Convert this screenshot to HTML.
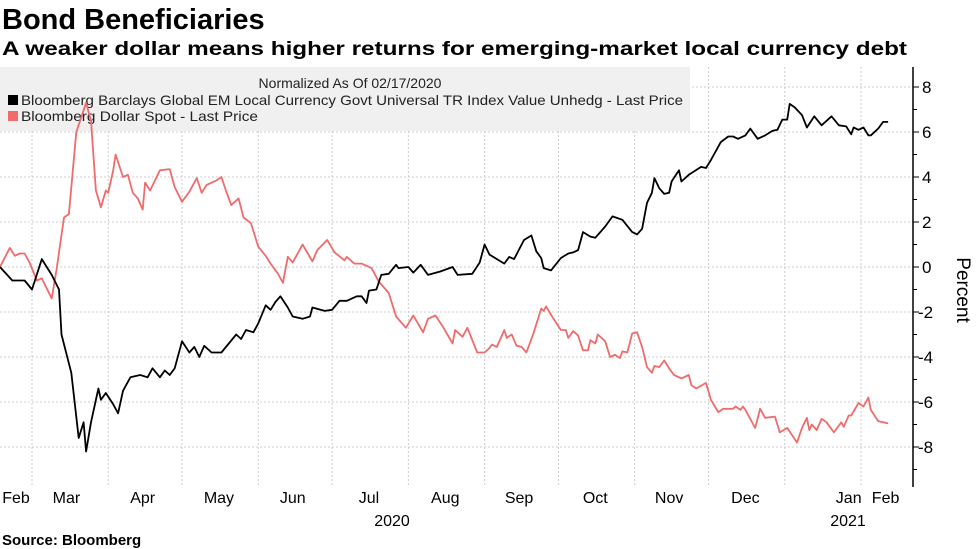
<!DOCTYPE html>
<html><head><meta charset="utf-8"><style>
body{margin:0;background:#fff;font-family:"Liberation Sans",sans-serif}
svg{display:block}
</style></head><body>
<svg id="chart" width="977" height="549">
<text x="2" y="29" font-size="29" font-weight="bold">Bond Beneficiaries</text>
<text x="2" y="55" font-size="19" font-weight="bold" textLength="905" lengthAdjust="spacingAndGlyphs">A weaker dollar means higher returns for emerging-market local currency debt</text>
<g id="grid"></g>
<rect x="0" y="67" width="690" height="64" fill="#f0f0f0"/>
<text x="350" y="88" font-size="14" text-anchor="middle" fill="#222">Normalized As Of 02/17/2020</text>
<g><rect x="8" y="95" width="10" height="10" fill="#000"/><text x="21" y="105" font-size="14" textLength="662" lengthAdjust="spacingAndGlyphs" fill="#222">Bloomberg Barclays Global EM Local Currency Govt Universal TR Index Value Unhedg - Last Price</text></g>
<g><rect x="8" y="111" width="10" height="10" fill="#f06b6b"/><text x="21" y="121" font-size="14" textLength="237" lengthAdjust="spacingAndGlyphs" fill="#222">Bloomberg Dollar Spot - Last Price</text></g>
<g id="series"></g>
<g id="yaxis"></g>
<g id="xaxis"></g>
<text x="392" y="526" font-size="16" text-anchor="middle">2020</text>
<text x="848" y="526" font-size="16" text-anchor="middle">2021</text>
<text transform="translate(957,290) rotate(90)" font-size="19" text-anchor="middle">Percent</text>
<text x="2" y="545" font-size="15" font-weight="bold">Source: Bloomberg</text>
</svg>
<script>
const emDays=[0,5,10,13,17,21,24,25,29,32,34,35,37,40,41,43,46,48,50,53,57,60,62,65,67,69,71,74,77,79,81,83,86,90,93,96,98,100,103,105,108,110,112,114,117,119,123,126,127,132,135,138,141,145,147,149,150,153,155,158,161,162,166,168,171,174,179,184,186,192,195,197,199,202,205,207,209,213,216,218,220,221,224,228,231,233,235,237,240,242,246,249,253,257,259,261,263,265,266,268,270,272,273,276,277,280,285,287,289,293,296,298,300,303,305,308,311,314,316,318,320,321,323,326,328,331,334,338,341,344,346,347,349,351,353,354,357,359,361];
const emValues=[0,-0.6,-0.6,-1.0,0.35,-0.35,-1.0,-3.0,-4.7,-7.6,-6.9,-8.2,-6.9,-5.4,-5.9,-5.6,-6.1,-6.5,-5.5,-4.9,-4.8,-4.9,-4.5,-4.9,-4.6,-4.8,-4.5,-3.3,-3.8,-3.55,-4.0,-3.5,-3.8,-3.8,-3.4,-3.0,-3.2,-2.8,-2.9,-2.5,-1.7,-1.9,-1.55,-1.3,-1.8,-2.2,-2.3,-2.2,-1.8,-1.95,-1.9,-1.5,-1.5,-1.3,-1.3,-1.6,-1.05,-1.0,-0.35,-0.3,0.1,-0.05,0,-0.25,0.1,-0.35,-0.2,0,-0.35,-0.3,0.2,1.0,0.55,0.35,0.15,0.45,0.35,1.2,1.4,0.7,0.4,-0.05,-0.15,0.4,0.6,0.65,0.75,1.55,1.35,1.3,1.8,2.25,2.1,1.55,1.45,1.7,2.85,3.3,3.95,3.5,3.25,3.3,3.8,4.3,3.8,4.1,4.45,4.4,4.75,5.55,5.8,5.8,5.7,5.85,6.15,5.7,5.85,6.05,6.1,6.55,6.55,7.25,7.1,6.75,6.2,6.7,6.3,6.7,6.3,6.25,5.9,6.2,6.1,6.2,5.85,5.85,6.15,6.45,6.45];
const usdDays=[0,4,6,8,10,12,15,17,21,23,26,28,31,35,37,39,41,43,44,46,47,50,52,54,56,58,59,61,63,65,69,71,74,77,80,82,84,88,90,92,94,97,99,102,105,108,110,113,115,117,119,123,127,129,133,136,140,141,144,147,151,154,158,161,165,168,172,174,177,180,184,185,188,190,194,197,199,200,202,205,206,208,210,212,214,217,220,221,222,225,228,230,231,233,235,237,239,240,242,243,246,248,250,252,253,255,257,259,261,263,265,266,268,270,272,274,277,280,281,283,287,289,292,294,298,299,301,302,303,305,307,309,311,315,317,320,324,326,328,329,330,332,334,336,339,342,343,345,346,349,351,353,354,357,361];
const usdValues=[0,0.85,0.5,0.6,0.6,0.2,-0.6,-0.5,-1.4,-0.1,2.2,2.35,6.0,7.3,6.5,3.4,2.65,3.4,3.3,4.3,5.0,4.0,4.1,3.3,3.05,2.55,3.75,3.4,3.85,4.3,4.35,3.55,2.9,3.35,3.95,3.3,3.65,3.85,4.0,3.35,2.75,3.05,2.2,1.95,0.9,0.5,0.15,-0.3,-0.7,0.45,0.2,1.0,0.25,0.75,1.2,0.65,0.3,0.45,0.15,0.15,-0.05,-0.65,-1.15,-2.2,-2.7,-2.15,-2.9,-2.3,-2.15,-2.65,-3.4,-2.8,-3.1,-2.7,-3.8,-3.8,-3.6,-3.45,-3.55,-2.8,-3.15,-3.0,-3.5,-3.55,-3.8,-2.9,-1.85,-1.95,-1.75,-2.3,-2.8,-2.8,-3.15,-2.85,-3.05,-3.7,-3.7,-3.25,-3.4,-3.0,-3.3,-4.0,-3.9,-4.05,-3.75,-3.8,-2.95,-2.9,-3.55,-4.45,-4.7,-4.4,-4.45,-4.15,-4.5,-4.8,-4.95,-4.8,-5.25,-5.4,-5.15,-5.9,-6.45,-6.3,-6.3,-6.2,-6.35,-6.2,-6.35,-6.75,-7.15,-6.3,-6.7,-6.65,-7.35,-7.15,-7.8,-7.15,-6.7,-7.25,-7.0,-7.25,-6.75,-6.9,-7.35,-6.9,-7.1,-6.6,-6.6,-6.05,-6.2,-5.8,-6.35,-6.85,-6.95];
const yTicks=[8,6,4,2,0,-2,-4,-6,-8];
const monthBoundaries=[13,44,74,105,135,166,197,227,258,288,319,350];
const monthLabels=["Feb","Mar","Apr","May","Jun","Jul","Aug","Sep","Oct","Nov","Dec","Jan","Feb"];
const monthLabelDays=[6.5,27,58,89,119,150,181,211,242,272,303,345,360];

const NS="http://www.w3.org/2000/svg";
const X0=0,PXD=2.46,Y0=267,PXU=22.5,AX=913,TOP=67,BOT=487;
const xs=d=>X0+d*PXD, ys=v=>Y0-v*PXU;
function mk(tag,attrs,parent){const e=document.createElementNS(NS,tag);for(const k in attrs)e.setAttribute(k,attrs[k]);parent.appendChild(e);return e;}
const grid=document.getElementById('grid'),series=document.getElementById('series'),yaxis=document.getElementById('yaxis'),xaxis=document.getElementById('xaxis');
yTicks.forEach(v=>{
  const l=mk('line',{x1:0,x2:AX,y1:ys(v),y2:ys(v),stroke:'#ccc','stroke-dasharray':'2,2','stroke-width':1},grid);
  
  
  const t=mk('line',{x1:AX,x2:AX+6,y1:ys(v),y2:ys(v),stroke:'#000'},yaxis);
  
  
  const m=mk('line',{x1:AX,x2:AX+4,y1:ys(v-1),y2:ys(v-1),stroke:'#000'},yaxis);
  
  
  const tx=mk('text',{x:AX+(v<0?5:9),y:ys(v)+6,'font-size':17},yaxis);
  tx.textContent=v<0?'-'+Math.abs(v):String(v);
  
  
});
const ax=mk('line',{x1:AX,x2:AX,y1:TOP,y2:BOT,stroke:'#000','stroke-width':1.5},yaxis);


monthBoundaries.forEach(d=>{
  const l=mk('line',{x1:xs(d),x2:xs(d),y1:TOP,y2:BOT,stroke:'#ccc','stroke-dasharray':'2,2'},grid);
  
  
});
monthLabels.forEach((m,i)=>{
  const t=mk('text',{x:xs(monthLabelDays[i]),y:503,'font-size':16,'text-anchor':'middle'},xaxis);
  t.textContent=m;
  
  
});
function line(days,vals,color,name){
  const d=days.map((x,i)=>(i?'L':'M')+xs(x).toFixed(1)+','+ys(vals[i]).toFixed(1)).join('');
  const p=mk('path',{d:d,fill:'none',stroke:color,'stroke-width':1.8,'stroke-linejoin':'round'},series);
  
  
}
line(usdDays,usdValues,'#f06b6b','dollar-spot-line');
line(emDays,emValues,'#000','em-local-currency-line');
</script>
</body></html>
